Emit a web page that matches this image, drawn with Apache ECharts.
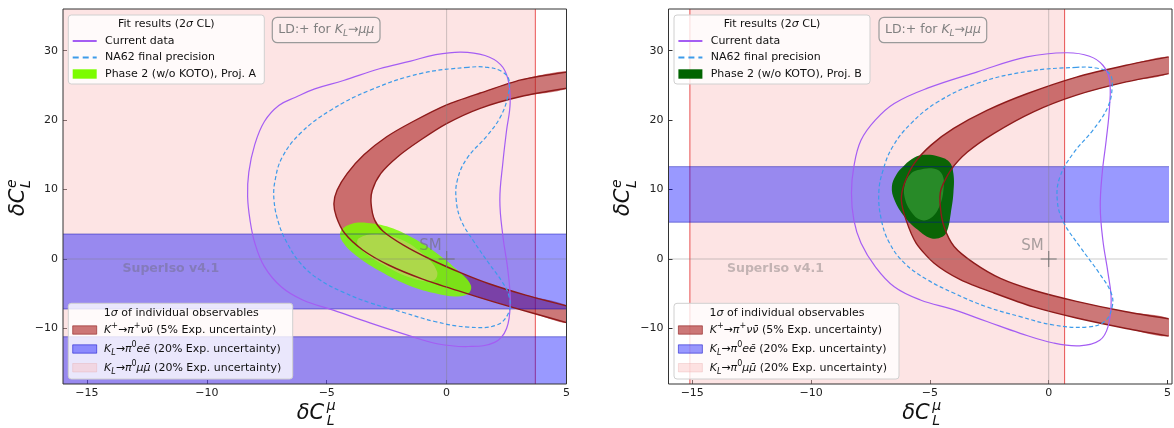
<!DOCTYPE html>
<html>
<head>
<meta charset="utf-8">
<script src="https://cdn.jsdelivr.net/npm/echarts@6/dist/echarts.min.js"></script>
<style>
  html, body { margin: 0; background: #fff; }
  #chart { width: 1174px; height: 428px; }
</style>
</head>
<body>
<div id="chart"></div>
<script>
// axis ranges and ticks
const xRange = [-16, 5]
const yRange = [-18, 36]
const xTicks = [-15, -10, -5, 0, 5]
const yTicks = [-10, 0, 10, 20, 30]
const smPoint = [0, 0]

// ---- panel A (Proj. A) ----
const muMuBandA = [-17, 3.7]            // K_L -> pi0 mu mu, 1 sigma in dC_mu
const eeBandsA = [[-7.2, 3.6], [-19, -11.2]] // K_L -> pi0 e e, 1 sigma in dC_e
const kpOuterA = [[5.05, 26.95], [3.1, 25.8], [1.4, 23.9], [0.0, 22.2], [-1.4, 19.8], [-2.5, 17.6],
  [-3.45, 15.0], [-4.15, 12.3], [-4.57, 9.9], [-4.7, 8.0], [-4.6, 6.1], [-4.25, 3.7], [-3.5, 1.3],
  [-2.4, -0.9], [-1.0, -2.9], [0.5, -4.6], [2.0, -6.2], [3.5, -7.7], [5.05, -9.2]]
const kpInnerA = [[5.05, 24.6], [3.1, 23.4], [1.4, 21.7], [0.0, 19.5], [-1.1, 17.1], [-2.05, 14.7],
  [-2.75, 12.3], [-3.1, 9.9], [-3.15, 8.0], [-3.0, 5.6], [-2.65, 4.0], [-1.8, 2.0], [-0.7, 0.0],
  [0.6, -2.0], [1.8, -3.6], [3.3, -5.2], [5.05, -6.8]]
const currentA = [[0.6, 29.8], [-0.5, 29.4], [-1.5, 28.5], [-2.8, 27.4], [-4.3, 25.7], [-5.5, 24.5],
  [-6.3, 23.3], [-7.0, 22.1], [-7.6, 19.8], [-8.0, 16.5], [-8.25, 12.5], [-8.3, 9.0], [-8.2, 5.6],
  [-8.0, 2.3], [-7.6, -1.1], [-6.9, -4.0], [-6.0, -5.9], [-4.7, -7.4], [-3.2, -9.2], [-1.6, -11.0],
  [-0.4, -12.2], [0.9, -12.6], [2.0, -12.0], [2.5, -10.0], [2.65, -6.2], [2.55, -1.5], [2.35, 3.2],
  [2.22, 8.5], [2.35, 14.0], [2.5, 18.5], [2.65, 22.5], [2.55, 26.0], [2.25, 28.0], [1.6, 29.3]]
const na62A = [[0.9, 27.6], [-1.1, 26.7], [-3.2, 24.3], [-4.85, 21.4], [-6.1, 18.1], [-6.85, 14.7],
  [-7.15, 11.4], [-7.2, 8.5], [-7.0, 5.1], [-6.65, 2.3], [-6.1, -0.6], [-5.3, -3.0], [-4.3, -4.8],
  [-3.2, -6.3], [-1.8, -7.7], [-0.5, -9.0], [0.9, -9.8], [2.1, -9.5], [2.6, -7.6], [2.6, -5.3],
  [2.3, -3.2], [1.8, -0.8], [1.1, 2.7], [0.6, 5.6], [0.4, 8.5], [0.45, 11.4], [0.85, 14.5],
  [1.7, 17.8], [2.25, 20.5], [2.55, 23.4], [2.6, 25.8], [2.3, 27.0], [1.7, 27.6]]
const phase2OuterA = [[-4.43, 3.9], [-4.0, 5.0], [-3.3, 5.2], [-2.5, 4.7], [-1.5, 3.2], [-0.4, 0.8],
  [0.45, -1.6], [1.0, -3.7], [0.93, -4.9], [0.45, -5.4], [-0.53, -4.9], [-1.65, -3.7], [-2.75, -1.8],
  [-3.7, 0.3], [-4.3, 2.3]]
const phase2InnerA = [[-3.66, 3.0], [-2.9, 3.6], [-1.9, 2.8], [-0.95, 0.6], [-0.4, -1.8], [-0.55, -3.1],
  [-1.4, -2.8], [-2.5, -1.1], [-3.3, 0.6], [-3.7, 2.0]]

// ---- panel B (Proj. B) ----
const muMuBandB = [-15.1, 0.67]
const eeBandsB = [[5.3, 13.3]]
const kpOuterB = [[5.05, 29.1], [3.26, 27.9], [1.17, 26.2], [-0.92, 23.8], [-2.6, 21.4], [-4.0, 18.8],
  [-4.95, 16.4], [-5.65, 13.8], [-6.07, 10.9], [-6.2, 8.5], [-6.0, 5.6], [-5.58, 2.3], [-4.82, -0.6],
  [-3.7, -3.0], [-2.3, -4.9], [-0.64, -6.9], [1.17, -8.5], [3.26, -10.0], [5.05, -11.1]]
const kpInnerB = [[5.05, 26.7], [3.26, 25.5], [1.17, 23.6], [-0.64, 21.2], [-2.3, 18.1], [-3.42, 15.4],
  [-4.12, 12.8], [-4.54, 9.9], [-4.56, 7.5], [-4.4, 4.6], [-3.98, 1.8], [-3.14, -0.6], [-2.03, -2.8],
  [-0.64, -4.5], [1.17, -6.1], [3.26, -7.6], [5.05, -8.6]]
const currentB = [[0.75, 29.7], [-0.92, 29.1], [-3.0, 26.95], [-5.1, 24.6], [-6.5, 22.4], [-7.3, 20.0],
  [-7.9, 17.1], [-8.2, 13.3], [-8.3, 9.5], [-8.2, 5.6], [-7.9, 2.3], [-7.3, -1.1], [-6.5, -4.0],
  [-5.4, -5.9], [-4.0, -7.3], [-2.6, -9.0], [-1.2, -10.7], [0.2, -12.1], [1.3, -12.5], [2.15, -11.7],
  [2.5, -9.7], [2.63, -5.9], [2.5, -2.1], [2.28, 2.7], [2.17, 7.5], [2.25, 12.3], [2.42, 17.1],
  [2.56, 21.9], [2.56, 25.8], [2.28, 27.9], [1.72, 29.2]]
const na62B = [[1.17, 27.6], [-0.92, 27.0], [-3.0, 25.3], [-4.68, 22.6], [-5.8, 19.5], [-6.56, 16.2],
  [-6.97, 12.8], [-7.15, 9.5], [-7.04, 5.6], [-6.7, 2.3], [-6.07, -0.6], [-5.1, -3.0], [-4.0, -4.9],
  [-2.6, -6.9], [-1.2, -8.3], [0.2, -9.5], [1.6, -9.8], [2.35, -9.0], [2.67, -6.9], [2.63, -4.9],
  [2.14, -2.1], [1.31, 1.8], [0.61, 5.4], [0.36, 8.5], [0.47, 11.8], [1.03, 15.2], [1.87, 18.6],
  [2.49, 21.9], [2.67, 24.8], [2.56, 26.7], [2.0, 27.5]]
const phase2OuterB = [[-5.23, 15.0], [-4.68, 14.8], [-4.19, 14.0], [-4.01, 12.3], [-4.01, 9.5],
  [-4.12, 6.6], [-4.26, 4.2], [-4.47, 3.2], [-4.96, 3.0], [-5.51, 4.2], [-6.07, 6.1], [-6.49, 8.5],
  [-6.6, 10.4], [-6.42, 12.1], [-6.07, 13.5], [-5.65, 14.6]]
const phase2InnerB = [[-5.51, 12.8], [-4.81, 13.0], [-4.47, 12.1], [-4.43, 9.9], [-4.61, 7.5],
  [-4.96, 5.9], [-5.37, 5.6], [-5.79, 6.8], [-6.07, 9.0], [-6.04, 10.9], [-5.82, 12.2]]

// ---- styling ----
const FONT = 'DejaVu Sans'
const C = {
  pink: 'rgba(250,190,190,0.42)', pinkEdge: 'rgba(225,30,30,0.75)',
  blue: 'rgba(0,0,255,0.4)', blueEdge: 'rgba(0,0,170,0.45)',
  brown: 'rgba(170,30,30,0.6)', brownEdge: '#8e1b1b',
  purple: '#a45df3', na62: '#3d9be9',
  greenA: 'rgba(124,252,0,0.86)', greenAin: 'rgba(182,214,84,0.85)',
  greenB: 'rgba(0,100,0,0.95)', greenBin: 'rgba(42,140,42,0.95)',
  gray: 'rgba(110,110,110,0.7)'
}
const grids = [
  { left: 63, top: 9, width: 503.5, height: 375 },
  { left: 668.5, top: 9, width: 503.5, height: 375 }
]

const shape = (gi, z, build) => ({
  type: 'custom', xAxisIndex: gi, yAxisIndex: gi, clip: true, silent: true, z,
  data: [[0, 0]], renderItem: (params, api) => build(api)
})
const pix = (api, pts) => pts.map(p => api.coord(p))
const poly = (gi, z, pts, style, smooth) => shape(gi, z, api => ({
  type: 'polygon', shape: { points: pix(api, pts), smooth: smooth || 0 }, style
}))
const pline = (gi, z, pts, style, smooth) => shape(gi, z, api => ({
  type: 'polyline', shape: { points: pix(api, pts), smooth: smooth || 0 }, style: Object.assign({ fill: null }, style)
}))

function panelSeries(gi, d) {
  const s = []
  const [m0, m1] = d.muMu
  s.push(poly(gi, 1, [[m0, yRange[0]], [m1, yRange[0]], [m1, yRange[1]], [m0, yRange[1]]], { fill: C.pink }))
  s.push(pline(gi, 2, [[m0, yRange[0]], [m0, yRange[1]]], { stroke: C.pinkEdge, lineWidth: 1 }))
  s.push(pline(gi, 2, [[m1, yRange[0]], [m1, yRange[1]]], { stroke: C.pinkEdge, lineWidth: 1 }))
  s.push(poly(gi, 3, d.kpOuter.concat(d.kpInner.slice().reverse()), { fill: C.brown }, 0.25))
  d.ee.forEach(([e0, e1]) => {
    const xa = xRange[0] - 1, xb = xRange[1] + 1
    s.push(poly(gi, 4, [[xa, e0], [xb, e0], [xb, e1], [xa, e1]], { fill: C.blue }))
  })
  s.push(poly(gi, 5, d.p2Outer, { fill: d.green }, 0.4))
  s.push(poly(gi, 6, d.p2Inner, { fill: d.greenIn }, 0.4))
  d.ee.forEach(([e0, e1]) => {
    const xa = xRange[0] - 1, xb = xRange[1] + 1
    s.push(pline(gi, 7, [[xa, e0], [xb, e0]], { stroke: C.blueEdge, lineWidth: 1 }))
    s.push(pline(gi, 7, [[xa, e1], [xb, e1]], { stroke: C.blueEdge, lineWidth: 1 }))
  })
  s.push(pline(gi, 8, d.kpOuter, { stroke: C.brownEdge, lineWidth: 1.4 }, 0.25))
  s.push(pline(gi, 8, d.kpInner, { stroke: C.brownEdge, lineWidth: 1.4 }, 0.25))
  // SM crosshair
  s.push(pline(gi, 9, [[smPoint[0], yRange[0]], [smPoint[0], yRange[1]]], { stroke: 'rgba(128,128,128,0.4)', lineWidth: 1 }))
  s.push(pline(gi, 9, [[xRange[0], smPoint[1]], [xRange[1], smPoint[1]]], { stroke: 'rgba(128,128,128,0.4)', lineWidth: 1 }))
  s.push(poly(gi, 10, d.current, { fill: null, stroke: C.purple, lineWidth: 1.2 }, 0.4))
  s.push(poly(gi, 10, d.na62, { fill: null, stroke: C.na62, lineWidth: 1.2, lineDash: [4, 2.5] }, 0.4))
  s.push(shape(gi, 11, api => {
    const [px, py] = api.coord(smPoint)
    return {
      type: 'group', children: [
        { type: 'line', shape: { x1: px - 8, y1: py, x2: px + 8, y2: py }, style: { stroke: C.gray, lineWidth: 1.3 } },
        { type: 'line', shape: { x1: px, y1: py - 8, x2: px, y2: py + 8 }, style: { stroke: C.gray, lineWidth: 1.3 } },
        { type: 'text', x: px - 5, y: py - 5, style: { text: 'SM', fill: 'rgba(110,110,110,0.6)', fontSize: 15, fontFamily: FONT, align: 'right', verticalAlign: 'bottom' } }
      ]
    }
  }))
  s.push(shape(gi, 11, api => {
    const [px, py] = api.coord([-11.5, -1.45])
    return { type: 'text', x: px, y: py, style: { text: 'SuperIso v4.1', fill: 'rgba(100,100,100,0.38)', fontSize: 12.5, fontWeight: 'bold', fontFamily: FONT, align: 'center', verticalAlign: 'middle' } }
  }))
  return s
}

const rich = {
  i: { fontStyle: 'italic', fontSize: 11, fontFamily: FONT, fill: '#111', lineHeight: 16 },
  sub: { fontStyle: 'italic', fontSize: 8, fontFamily: FONT, fill: '#111', verticalAlign: 'bottom', lineHeight: 16 },
  sup: { fontSize: 8, fontFamily: FONT, fill: '#111', verticalAlign: 'top', lineHeight: 16 }
}
const txt = (x, y, text, extra) => ({
  type: 'text', x, y, z: 100,
  style: Object.assign({ text, fontSize: 11, fontFamily: FONT, fill: '#111', verticalAlign: 'middle', lineHeight: 16, rich }, extra || {})
})

function legendTop(x0, proj, greenColor) {
  const y0 = 15
  return [
    { type: 'rect', z: 99, shape: { x: x0, y: y0, width: 196, height: 69, r: 3 }, style: { fill: 'rgba(255,255,255,0.8)', stroke: '#d0d0d0', lineWidth: 1 } },
    txt(x0 + 98, y0 + 9.5, 'Fit results (2{i|σ} CL)', { align: 'center' }),
    { type: 'line', z: 100, shape: { x1: x0 + 4.4, y1: y0 + 26, x2: x0 + 28.4, y2: y0 + 26 }, style: { stroke: C.purple, lineWidth: 2 } },
    txt(x0 + 36.7, y0 + 26, 'Current data'),
    { type: 'line', z: 100, shape: { x1: x0 + 4.4, y1: y0 + 42.5, x2: x0 + 28.4, y2: y0 + 42.5 }, style: { stroke: C.na62, lineWidth: 2, lineDash: [6, 4] } },
    txt(x0 + 36.7, y0 + 42.5, 'NA62 final precision'),
    { type: 'rect', z: 100, shape: { x: x0 + 4.4, y: y0 + 54.3, width: 24, height: 9.4 }, style: { fill: greenColor } },
    txt(x0 + 36.7, y0 + 59, 'Phase 2 (w/o KOTO), Proj. ' + proj)
  ]
}

function legendBottom(x0, w) {
  const y0 = 303.3
  const patch = (y, fill, stroke) => ({ type: 'rect', z: 100, shape: { x: x0 + 4.4, y: y - 4.2, width: 24, height: 8.4 }, style: { fill, stroke, lineWidth: 1 } })
  return [
    { type: 'rect', z: 99, shape: { x: x0, y: y0, width: w, height: 75.7, r: 3 }, style: { fill: 'rgba(255,255,255,0.8)', stroke: '#d0d0d0', lineWidth: 1 } },
    txt(x0 + 113, y0 + 10, '1{i|σ} of individual observables', { align: 'center' }),
    patch(y0 + 26.7, C.brown, 'rgba(140,27,27,0.6)'),
    txt(x0 + 35.7, y0 + 26.7, '{i|K}{sup|+}→{i|π}{sup|+}{i|νν̄} (5% Exp. uncertainty)'),
    patch(y0 + 45.7, C.blue, 'rgba(0,0,200,0.5)'),
    txt(x0 + 35.7, y0 + 45.7, '{i|K}{sub|L}→{i|π}{sup|0}{i|eē} (20% Exp. uncertainty)'),
    patch(y0 + 64.4, C.pink, 'rgba(230,160,160,0.3)'),
    txt(x0 + 35.7, y0 + 64.4, '{i|K}{sub|L}→{i|π}{sup|0}{i|μμ̄} (20% Exp. uncertainty)')
  ]
}

function ldBox(x0) {
  return [
    { type: 'rect', z: 99, shape: { x: x0, y: 17.3, width: 107.7, height: 25.4, r: 5 }, style: { fill: 'rgba(255,255,255,0.3)', stroke: '#9a9a9a', lineWidth: 1.2 } },
    txt(x0 + 54, 30, 'LD:+ for {li|K}{ls|L}→{li|μμ}', {
      align: 'center', fontSize: 12.5, fill: '#808080',
      rich: {
        li: { fontStyle: 'italic', fontSize: 12.5, fontFamily: FONT, fill: '#808080', lineHeight: 16 },
        ls: { fontStyle: 'italic', fontSize: 9, fontFamily: FONT, fill: '#808080', verticalAlign: 'bottom', lineHeight: 16 }
      }
    })
  ]
}

function xName(cx) {
  const f = { fontStyle: 'italic', fontFamily: FONT, fill: '#111', verticalAlign: 'middle' }
  return [
    { type: 'text', z: 100, x: cx - 18, y: 413.5, style: Object.assign({ text: 'δC', fontSize: 21, align: 'left' }, f) },
    { type: 'text', z: 100, x: cx + 12, y: 406.5, style: Object.assign({ text: 'μ', fontSize: 14, align: 'left' }, f) },
    { type: 'text', z: 100, x: cx + 12, y: 421, style: Object.assign({ text: 'L', fontSize: 14, align: 'left' }, f) }
  ]
}
function yName(gx) {
  const f = { fontStyle: 'italic', fontFamily: FONT, fill: '#111', verticalAlign: 'middle' }
  return {
    type: 'group', z: 100, x: gx, y: 197, rotation: Math.PI / 2,
    children: [
      { type: 'text', x: -19, y: 0, style: Object.assign({ text: 'δC', fontSize: 21, align: 'left' }, f) },
      { type: 'text', x: 9, y: -6.5, style: Object.assign({ text: 'e', fontSize: 14, align: 'left' }, f) },
      { type: 'text', x: 9, y: 8, style: Object.assign({ text: 'L', fontSize: 14, align: 'left' }, f) }
    ]
  }
}

const minus = v => String(v).replace('-', '−')
const xAxes = grids.map((g, i) => ({
  type: 'value', gridIndex: i, min: xRange[0], max: xRange[1], position: 'bottom',
  splitLine: { show: false }, axisLine: { show: false, onZero: false },
  axisTick: { customValues: xTicks, inside: true, length: 4, lineStyle: { color: '#333' } },
  axisLabel: { customValues: xTicks, formatter: minus, margin: 4, fontSize: 11, fontFamily: FONT, color: '#222' }
}))
const yAxes = grids.map((g, i) => ({
  type: 'value', gridIndex: i, min: yRange[0], max: yRange[1], position: 'left',
  splitLine: { show: false }, axisLine: { show: false, onZero: false },
  axisTick: { customValues: yTicks, inside: true, length: 4, lineStyle: { color: '#333' } },
  axisLabel: { customValues: yTicks, formatter: minus, margin: 5, fontSize: 11, fontFamily: FONT, color: '#222' }
}))

const panelA = { muMu: muMuBandA, ee: eeBandsA, kpOuter: kpOuterA, kpInner: kpInnerA, current: currentA, na62: na62A, p2Outer: phase2OuterA, p2Inner: phase2InnerA, green: C.greenA, greenIn: C.greenAin }
const panelB = { muMu: muMuBandB, ee: eeBandsB, kpOuter: kpOuterB, kpInner: kpInnerB, current: currentB, na62: na62B, p2Outer: phase2OuterB, p2Inner: phase2InnerB, green: C.greenB, greenIn: C.greenBin }

const frames = grids.map(g => ({ type: 'rect', z: 98, shape: { x: g.left, y: g.top, width: g.width, height: g.height }, style: { fill: null, stroke: '#333', lineWidth: 1 } }))

const graphics = [].concat(
  frames,
  legendTop(68.3, 'A', '#7cfc00'), legendTop(674, 'B', '#006400'),
  legendBottom(68.3, 224.4), legendBottom(674, 225),
  ldBox(272.3), ldBox(879),
  xName(grids[0].left + grids[0].width / 2), xName(grids[1].left + grids[1].width / 2),
  [yName(18.5), yName(624)]
)

const chart = echarts.init(document.getElementById('chart'))
chart.setOption({
  animation: false,
  backgroundColor: '#fff',
  grid: grids,
  xAxis: xAxes,
  yAxis: yAxes,
  series: panelSeries(0, panelA).concat(panelSeries(1, panelB)),
  graphic: graphics
})
</script>
</body>
</html>
